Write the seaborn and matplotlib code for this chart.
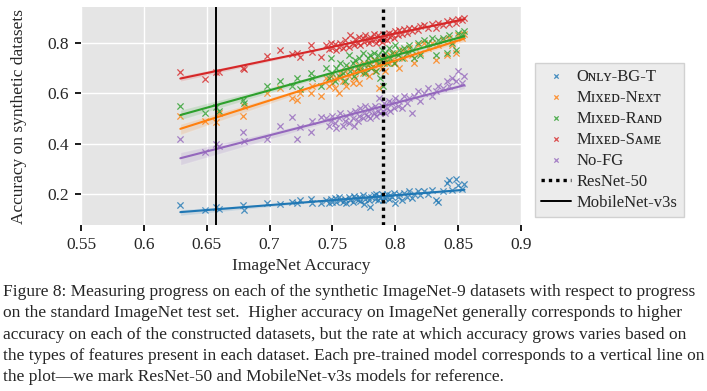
import numpy as np
import pandas as pd
import matplotlib
matplotlib.use("Agg")
import matplotlib.pyplot as plt
import seaborn as sns

# ImageNet accuracy of each pre-trained model (shared by all series)
imagenet_acc = [
    0.629, 0.649, 0.657, 0.660, 0.679, 0.680, 0.698, 0.708, 0.718, 0.722,
    0.724, 0.733, 0.734, 0.741,
    0.745, 0.747, 0.749, 0.750, 0.752, 0.753, 0.755, 0.756, 0.758, 0.760,
    0.761, 0.763, 0.764, 0.766, 0.767, 0.768, 0.770, 0.771, 0.772, 0.774,
    0.775, 0.776, 0.778, 0.779, 0.780, 0.781, 0.783, 0.784, 0.785, 0.786,
    0.787, 0.788, 0.789, 0.790, 0.791, 0.792, 0.793, 0.795, 0.796, 0.797,
    0.799, 0.800, 0.802, 0.803, 0.805, 0.807, 0.809, 0.811, 0.813, 0.815,
    0.818, 0.820, 0.823, 0.826, 0.829, 0.832, 0.834, 0.838, 0.841, 0.843,
    0.845, 0.848, 0.850, 0.853, 0.855,
]

only_bg_t = [
    0.157, 0.135, 0.150, 0.140, 0.155, 0.135, 0.165, 0.160, 0.170, 0.165,
    0.175, 0.180, 0.165, 0.165,
    0.175, 0.165, 0.180, 0.170, 0.185, 0.168, 0.190, 0.178, 0.170, 0.182,
    0.165, 0.188, 0.176, 0.170, 0.192, 0.185, 0.175, 0.188, 0.172, 0.195,
    0.160, 0.182, 0.190, 0.178, 0.150, 0.188, 0.196, 0.180, 0.200, 0.175,
    0.192, 0.183, 0.198, 0.178, 0.190, 0.185, 0.200, 0.182, 0.195, 0.188,
    0.203, 0.165, 0.190, 0.200, 0.178, 0.205, 0.190, 0.210, 0.185, 0.200,
    0.212, 0.195, 0.210, 0.198, 0.215, 0.175, 0.168, 0.210, 0.245, 0.255,
    0.215, 0.260, 0.235, 0.220, 0.240,
]

mixed_next = [
    0.510, 0.490, 0.487, 0.520, 0.510, 0.550, 0.600, 0.620, 0.580, 0.575,
    0.600, 0.600, 0.630, 0.590,
    0.660, 0.630, 0.670, 0.640, 0.620, 0.660, 0.600, 0.680, 0.650, 0.690,
    0.630, 0.670, 0.700, 0.640, 0.690, 0.660, 0.710, 0.640, 0.700, 0.680,
    0.720, 0.690, 0.710, 0.670, 0.720, 0.700, 0.730, 0.690, 0.720, 0.710,
    0.620, 0.730, 0.700, 0.740, 0.720, 0.690, 0.740, 0.720, 0.750, 0.730,
    0.760, 0.720, 0.750, 0.700, 0.770, 0.740, 0.760, 0.780, 0.750, 0.720,
    0.790, 0.760, 0.800, 0.780, 0.800, 0.730, 0.790, 0.810, 0.750, 0.820,
    0.790, 0.760, 0.830, 0.820, 0.835,
]

mixed_rand = [
    0.550, 0.520, 0.545, 0.530, 0.575, 0.560, 0.630, 0.650, 0.630, 0.660,
    0.615, 0.680, 0.660, 0.630,
    0.700, 0.660, 0.740, 0.680, 0.650, 0.700, 0.670, 0.720, 0.680, 0.650,
    0.710, 0.750, 0.690, 0.720, 0.670, 0.730, 0.700, 0.740, 0.690, 0.760,
    0.710, 0.680, 0.740, 0.720, 0.750, 0.700, 0.760, 0.730, 0.690, 0.750,
    0.720, 0.660, 0.770, 0.630, 0.740, 0.760, 0.720, 0.780, 0.740, 0.760,
    0.720, 0.790, 0.750, 0.770, 0.740, 0.780, 0.760, 0.790, 0.770, 0.740,
    0.800, 0.750, 0.810, 0.800, 0.820, 0.750, 0.810, 0.820, 0.760, 0.830,
    0.800, 0.770, 0.840, 0.830, 0.845,
]

mixed_same = [
    0.683, 0.657, 0.683, 0.685, 0.700, 0.695, 0.748, 0.770, 0.755, 0.760,
    0.745, 0.790, 0.765, 0.745,
    0.790, 0.775, 0.800, 0.780, 0.795, 0.770, 0.785, 0.800, 0.780, 0.810,
    0.790, 0.785, 0.830, 0.800, 0.790, 0.815, 0.800, 0.825, 0.790, 0.820,
    0.805, 0.830, 0.810, 0.800, 0.825, 0.810, 0.835, 0.815, 0.800, 0.830,
    0.810, 0.820, 0.805, 0.835, 0.815, 0.830, 0.810, 0.840, 0.825, 0.835,
    0.820, 0.845, 0.830, 0.850, 0.835, 0.855, 0.840, 0.860, 0.845, 0.860,
    0.850, 0.865, 0.870, 0.860, 0.875, 0.860, 0.880, 0.870, 0.885, 0.875,
    0.890, 0.880, 0.895, 0.890, 0.900,
]

no_fg = [
    0.420, 0.365, 0.400, 0.390, 0.445, 0.410, 0.420, 0.470, 0.505, 0.420,
    0.465, 0.445, 0.490, 0.505,
    0.500, 0.470, 0.490, 0.510, 0.480, 0.460, 0.500, 0.520, 0.470, 0.490,
    0.510, 0.480, 0.520, 0.500, 0.470, 0.530, 0.490, 0.510, 0.540, 0.500,
    0.520, 0.550, 0.510, 0.530, 0.500, 0.540, 0.520, 0.550, 0.510, 0.530,
    0.580, 0.520, 0.550, 0.530, 0.560, 0.520, 0.540, 0.570, 0.530, 0.560,
    0.540, 0.580, 0.550, 0.570, 0.540, 0.590, 0.560, 0.580, 0.520, 0.590,
    0.610, 0.570, 0.600, 0.620, 0.590, 0.610, 0.630, 0.620, 0.650, 0.630,
    0.660, 0.650, 0.690, 0.640, 0.670,
]

series_names = ["Oɴʟʏ-BG-T", "Mɪxᴇᴅ-Nᴇxᴛ", "Mɪxᴇᴅ-Rᴀɴᴅ", "Mɪxᴇᴅ-Sᴀᴍᴇ", "Nᴏ-FG"]
series_values = [only_bg_t, mixed_next, mixed_rand, mixed_same, no_fg]

resnet50_acc = 0.79
mobilenet_v3s_acc = 0.657

caption_lines = [
    "Figure 8: Measuring progress on each of the synthetic ImageNet-9 datasets with respect to progress",
    "on the standard ImageNet test set.  Higher accuracy on ImageNet generally corresponds to higher",
    "accuracy on each of the constructed datasets, but the rate at which accuracy grows varies based on",
    "the types of features present in each dataset. Each pre-trained model corresponds to a vertical line on",
    "the plot\u2014we mark ResNet-50 and MobileNet-v3s models for reference.",
]

sns.set_theme(style="darkgrid", rc={"axes.facecolor": "#e5e5e5", "grid.color": "white"})
plt.rcParams["font.family"] = ["Liberation Serif", "DejaVu Serif"]

fig = plt.figure(figsize=(7.07, 3.91), dpi=100)
ax = fig.add_axes([0.1146, 0.4246, 0.6224, 0.5574])

colors = sns.color_palette("tab10")
for i, (name, vals) in enumerate(zip(series_names, series_values)):
    df = pd.DataFrame({"imagenet": imagenet_acc, "synthetic": vals})
    sns.regplot(data=df, x="imagenet", y="synthetic", ax=ax, color=colors[i],
                marker="x", label=name,
                scatter_kws={"s": 20, "linewidths": 0.9, "alpha": 0.8},
                line_kws={"lw": 1.5})

ax.axvline(resnet50_acc, color="black", ls=(0, (1, 1.2)), lw=2.4, label="ResNet-50")
ax.axvline(mobilenet_v3s_acc, color="black", lw=1.4, label="MobileNet-v3s")

ax.set_xlim(0.55, 0.9)
ax.set_ylim(0.077, 0.942)
ax.set_xticks([0.55, 0.6, 0.65, 0.7, 0.75, 0.8, 0.85, 0.9])
ax.set_xticklabels(["0.55", "0.6", "0.65", "0.7", "0.75", "0.8", "0.85", "0.9"])
ax.set_yticks([0.2, 0.4, 0.6, 0.8])
ax.set_yticklabels(["0.2", "0.4", "0.6", "0.8"])
ax.tick_params(labelsize=12.5, length=4, color="black", bottom=True, left=True, pad=5)
ax.set_xlabel("ImageNet Accuracy", fontsize=12.5, labelpad=3)
ax.set_ylabel("Accuracy on synthetic datasets", fontsize=12.5, labelpad=14)
for s in ax.spines.values():
    s.set_visible(False)

leg = ax.legend(loc="upper left", bbox_to_anchor=(0.757, 0.839),
                bbox_transform=fig.transFigure, fontsize=12, markerscale=0.7,
                frameon=True, facecolor="#e8e8e8", edgecolor="#c8c8c8",
                fancybox=False, handlelength=1.8, labelspacing=0.3,
                borderpad=0.35, handletextpad=0.35, borderaxespad=0)
leg.get_frame().set_linewidth(1.0)

for k, line in enumerate(caption_lines):
    fig.text(0.004, 0.253 - k * 0.0545, line, fontsize=12.5, ha="left", va="center")

fig.savefig("out.png", dpi=100)
